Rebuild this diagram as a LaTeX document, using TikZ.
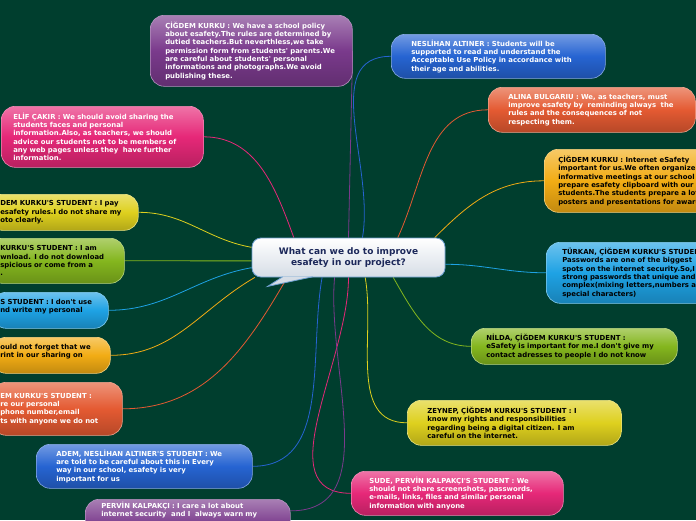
\documentclass[tikz,border=0pt]{standalone}
\usepackage{fontspec}
\newfontfamily\mapfont{DejaVu Sans}
\pgfdeclarelayer{bg}
\pgfsetlayers{bg,main}
\definecolor{bgdark}{RGB}{0,62,46}
\definecolor{ideapurple}{RGB}{122,58,140}
\definecolor{ideablue}{RGB}{38,100,210}
\definecolor{idearust}{RGB}{228,90,50}
\definecolor{ideagold}{RGB}{242,172,20}
\definecolor{ideapink}{RGB}{230,40,120}
\definecolor{ideayellow}{RGB}{222,208,30}
\definecolor{ideagreen}{RGB}{132,182,30}
\definecolor{ideacyan}{RGB}{30,162,228}
\definecolor{asknavy}{RGB}{28,40,90}
\definecolor{askedge}{RGB}{110,160,210}
\definecolor{askshade}{RGB}{214,221,230}
\tikzset{
  idea/.style={rounded corners=14pt, draw=#1!55!white, line width=0.6pt,
    top color=#1!65!white, bottom color=#1!80!black, middle color=#1,
    anchor=north west, align=left, inner xsep=0pt, inner ysep=3pt,
    font=\mapfont\bfseries\fontsize{6.9}{8.3}\selectfont, text=white},
  pad/.style={execute at begin node={\leftskip=#1pt\relax}},
  link/.style={draw=#1, line width=0.8pt},
  ask/.style={draw=askedge, line width=0.8pt, rounded corners=9pt,
    top color=white, bottom color=askshade, minimum width=193pt,
    minimum height=39pt, align=center, inner sep=0pt, text=asknavy,
    font=\mapfont\bfseries\fontsize{9}{11}\selectfont}
}
\begin{document}
\begin{tikzpicture}[x=1pt,y=1pt]
  \begin{pgfonlayer}{bg}
    \fill[bgdark] (0,0) rectangle (696,-520);
  \end{pgfonlayer}
  \useasboundingbox (0,0) rectangle (696,-520);
  \node[ask] (q) at (348.5,-257.5) {What can we do to improve\\esafety in our project?};
  \fill[askshade] (q.south west) ++(31,0.6) coordinate (t1) -- ++(-15,-9.6) coordinate (t2) -- ++(45,9.6) coordinate (t3) -- cycle;
  \draw[askedge, line width=0.8pt] (t1) -- (t2) -- (t3);
  \node[idea=ideapurple, text width=202pt, minimum height=71pt, pad=15] (policy) at (150,-15)
    {ÇİĞDEM KURKU : We have a school policy\\about esafety.The rules are determined by\\dutied teachers.But neverthless,we take\\permission form from students' parents.We\\are careful about students' personal\\informations and photographs.We avoid\\publishing these.};
  \node[idea=ideablue, text width=214pt, minimum height=44pt, pad=20] (neslihan) at (391,-34)
    {NESLİHAN ALTINER : Students will be\\supported to read and understand the\\Acceptable Use Policy in accordance with\\their age and abilities.};
  \node[idea=idearust, text width=207pt, minimum height=45pt, pad=20] (alina) at (488,-87)
    {ALINA BULGARIU : We, as teachers, must\\improve esafety by \ reminding always \ the\\rules and the consequences of not\\respecting them.};
  \node[idea=ideagold, text=black, text width=230pt, minimum height=63pt, pad=14] (meetings) at (544,-149)
    {ÇİĞDEM KURKU : Internet eSafety\\important for us.We often organize\\informative meetings at our school\\prepare esafety clipboard with our\\students.The students prepare a lot\\posters and presentations for awareness};
  \node[idea=ideacyan, text=black, text width=220pt, minimum height=61pt, pad=16] (turkan) at (546,-242)
    {TÜRKAN, ÇİĞDEM KURKU'S STUDENT :\\Passwords are one of the biggest\\spots on the internet security.So,I\\strong passwords that unique and\\complex(mixing letters,numbers and\\special characters)};
  \node[idea=ideagreen, text=black, text width=206pt, minimum height=36pt, pad=15] (nilda) at (471,-328)
    {NİLDA, ÇİĞDEM KURKU'S STUDENT :\\eSafety is important for me.I don't give my\\contact adresses to people I do not know};
  \node[idea=ideayellow, text=black, text width=214pt, minimum height=45pt, pad=20] (zeynep) at (407,-400)
    {ZEYNEP, ÇİĞDEM KURKU'S STUDENT : I\\know my rights and responsibilities\\regarding being a digital citizen. I am\\careful on the internet.};
  \node[idea=ideapink, text width=212pt, minimum height=44pt, pad=18] (sude) at (351,-471)
    {SUDE, PERVİN KALPAKÇI'S STUDENT : We\\should not share screenshots, passwords,\\e-mails, links, files and similar personal\\information with anyone};
  \node[idea=ideapurple, text width=205pt, text height=6pt, text depth=40pt, pad=16] (pervin) at (85,-499)
    {PERVİN KALPAKÇI : I care a lot about\\internet security \ and I \ always warn my};
  \node[idea=ideablue, text width=216pt, minimum height=44pt, pad=20] (adem) at (36,-444)
    {ADEM, NESLİHAN ALTINER'S STUDENT : We\\are told to be careful about this in Every\\way in our school, esafety is very\\important for us};
  \node[idea=ideapink, text width=202pt, minimum height=61pt, pad=12] (elif) at (1,-106)
    {ELİF ÇAKIR : We should avoid sharing the\\students faces and personal\\information.Also, as teachers, we should\\advice our students not to be members of\\any web pages unless they \ have further\\information.};
  \node[idea=ideayellow, text=black, text width=150pt, minimum height=36pt, pad=12] (pay) at (-12,-194)
    {DEM KURKU'S STUDENT : I pay\\esafety rules.I do not share my\\oto clearly.};
  \node[idea=ideagreen, text=black, text width=136pt, minimum height=45pt, pad=12] (download) at (-12,-238)
    {KURKU'S STUDENT : I am\\wnload. I do not download\\spicious or come from a\\.};
  \node[idea=ideacyan, text=black, text width=116pt, minimum height=36pt, pad=8] (write) at (-8,-292)
    {S STUDENT : I don't use\\nd write my personal\\\mbox{}};
  \node[idea=ideagold, text=black, text width=118pt, minimum height=36pt, pad=8] (forget) at (-8,-337)
    {ould not forget that we\\rint in our sharing on\\\mbox{}};
  \node[idea=idearust, text width=130pt, minimum height=53pt, pad=8] (phone) at (-8,-382)
    {EM KURKU'S STUDENT :\\re our personal\\phone number,email\\ts with anyone we do not};
  \begin{pgfonlayer}{bg}
    \draw[link=ideapurple] (q.north) -- (policy.east);
    \foreach \a/\n/\o/\i/\c in {55/neslihan.west/80/180/ideablue, 22/alina.west/65/180/idearust,
        13/meetings.west/45/180/ideagold, -4/turkan.west/0/180/ideacyan,
        -24/nilda.west/-60/180/ideagreen, -50/zeynep.west/-80/180/ideayellow,
        -90/sude.west/-90/180/ideapink, -125/pervin.8/-95/0/ideapurple,
        -143/adem.east/-100/0/ideablue, -162/phone.east/-120/0/idearust,
        -168/forget.east/-150/0/ideagold, -174/write.east/-170/0/ideacyan,
        -178/download.east/180/0/ideagreen, 174/pay.east/170/0/ideayellow,
        160/elif.east/110/0/ideapink}
      \draw[link=\c] (q.\a) to[out=\o,in=\i] (\n);
  \end{pgfonlayer}
\end{tikzpicture}
\end{document}
